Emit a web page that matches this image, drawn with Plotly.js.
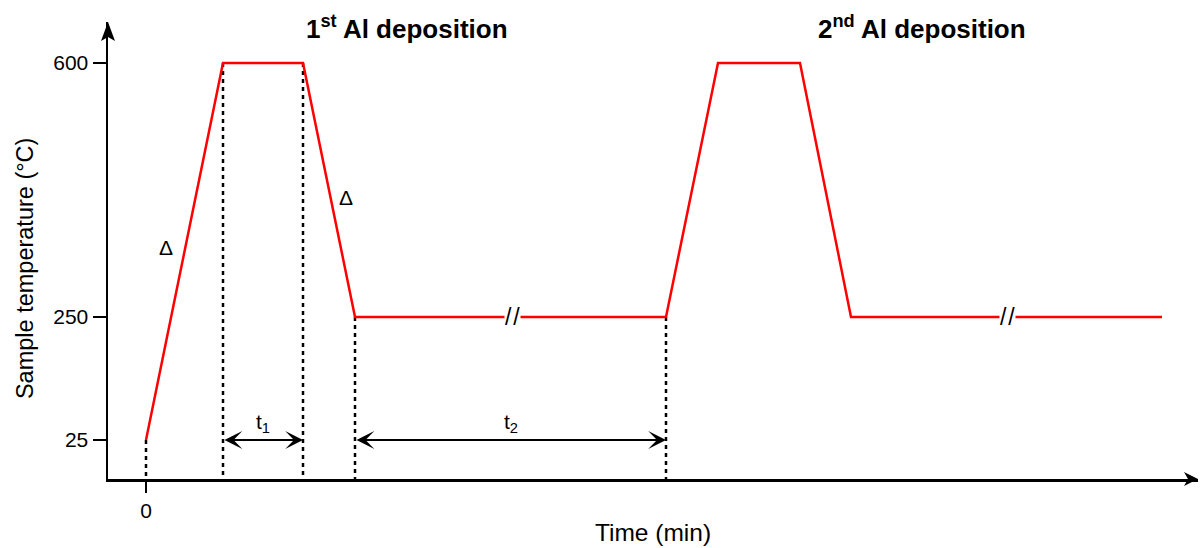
<!DOCTYPE html>
<html><head><meta charset="utf-8">
<script src="https://cdn.plot.ly/plotly-3.0.1.min.js"></script>
<style>html,body{margin:0;padding:0;background:#fff}#chart{width:1200px;height:548px}</style>
</head><body><div id="chart"></div>
<script>
// Temperature profile of two Al deposition cycles (schematic time axis)
const timeMin = [0, 1.54, 3.14, 4.18, 10.4, 11.44, 13.08, 14.1, 20.32];
const tempC   = [25, 600, 600, 250, 250, 600, 600, 250, 250];

// Temperature ticks and the schematic level each one sits at
const tickTemps  = [25, 250, 600];
const tickLabels = ['25', '250', '600'];
const tickLevels = [0, 1, 3.065];

// Dotted guides dropped from profile corners to the time axis
const guideTimes = [0, 1.54, 3.14, 4.18, 10.4];
const guideTemps = [25, 600, 600, 250, 250];

// Holding intervals t1, t2 (drawn at the 25 °C level)
const holdNames = ['t<sub>1</sub>', 't<sub>2</sub>'];
const holdStart = [1.54, 4.18];
const holdEnd   = [3.14, 10.4];
const holdTemp  = 25;

// Ramp markers
const rampTimes = [0.4, 4.0];
const rampTemps = [346, 415];

// Axis breaks on the 250 °C plateaus
const breakTimes = [7.32, 17.22];
const breakTemps = [250, 250];

// Cycle headers
const headers   = ['1<sup>st</sup> Al deposition', '2<sup>nd</sup> Al deposition'];
const headerPos = [0.274, 0.747];

// Piecewise-linear schematic temperature scale
function level(T) {
  for (let i = 0; i < tickTemps.length - 1; i++) {
    const a = tickTemps[i], b = tickTemps[i + 1];
    if (T <= b || i === tickTemps.length - 2) {
      return tickLevels[i] + (T - a) / (b - a) * (tickLevels[i + 1] - tickLevels[i]);
    }
  }
}

const yMin = -0.317, yMax = 3.398;
const FONT = 'Liberation Sans';
const INK = '#000';

const traces = [];

// dotted guides
guideTimes.forEach((t, i) => {
  traces.push({
    x: [t, t], y: [level(guideTemps[i]), yMin], mode: 'lines',
    line: {color: INK, width: 2.5, dash: '4px,4px'},
    hoverinfo: 'skip', showlegend: false, cliponaxis: false
  });
});

// profile
traces.push({
  x: timeMin, y: tempC.map(level), mode: 'lines',
  line: {color: '#ff0000', width: 2.5},
  name: 'Sample temperature', showlegend: false,
  customdata: tempC, hovertemplate: '%{customdata} °C<extra></extra>'
});

const annotations = [];

headers.forEach((h, i) => annotations.push({
  text: '<b>' + h + '</b>', xref: 'paper', yref: 'paper', x: headerPos[i], y: 0.987,
  xanchor: 'center', yanchor: 'middle', showarrow: false,
  font: {family: FONT, size: 26, color: INK}
}));

holdNames.forEach((n, i) => {
  annotations.push({
    x: holdEnd[i], y: level(holdTemp), ax: holdStart[i], ay: level(holdTemp),
    xref: 'x', yref: 'y', axref: 'x', ayref: 'y', text: '',
    showarrow: true, arrowside: 'end+start', arrowhead: 3, startarrowhead: 3,
    arrowsize: 1.35, startarrowsize: 1.35, arrowwidth: 2.2, arrowcolor: INK,
    standoff: 0, startstandoff: 0
  });
  annotations.push({
    text: n, x: (holdStart[i] + holdEnd[i]) / 2, y: level(holdTemp), yshift: 17,
    xref: 'x', yref: 'y', showarrow: false, xanchor: 'center', yanchor: 'middle',
    font: {family: FONT, size: 21, color: INK}
  });
});

rampTimes.forEach((t, i) => annotations.push({
  text: 'Δ', x: t, y: level(rampTemps[i]), xref: 'x', yref: 'y', showarrow: false,
  font: {family: FONT, size: 21, color: INK}
}));

breakTimes.forEach((t, i) => annotations.push({
  text: '/\u200A/', x: t, y: level(breakTemps[i]), xref: 'x', yref: 'y', showarrow: false,
  bgcolor: '#fff', borderpad: 0,
  font: {family: FONT, size: 23, color: INK}
}));

annotations.push({
  text: 'Sample temperature (°C)', textangle: -90, xref: 'paper', yref: 'paper',
  x: -0.0761, y: 0.4595, xanchor: 'center', yanchor: 'middle', showarrow: false,
  font: {family: FONT, size: 23.5, color: INK}
});

// axis arrowheads (pixel-sized paths anchored at the axis ends)
const shapes = [
  {type: 'path', xref: 'paper', yref: 'paper', xsizemode: 'pixel', ysizemode: 'pixel',
   xanchor: 0, yanchor: 1, path: 'M0,0 L-7,-19 L0,-15 L7,-19 Z',
   fillcolor: INK, line: {width: 0}},
  {type: 'path', xref: 'paper', yref: 'paper', xsizemode: 'pixel', ysizemode: 'pixel',
   xanchor: 1, yanchor: 0, path: 'M0,0 L-14,7 L-10,0 L-14,-7 Z',
   fillcolor: INK, line: {width: 0}}
];

const layout = {
  width: 1200, height: 548,
  margin: {l: 108, r: 2, t: 22, b: 69, pad: 0},
  paper_bgcolor: '#fff', plot_bgcolor: '#fff',
  showlegend: false,
  font: {family: FONT, color: INK, size: 20},
  xaxis: {
    range: [-0.76, 21.04], showgrid: false, zeroline: false,
    showline: true, linecolor: INK, linewidth: 2.5,
    tickmode: 'array', tickvals: [0], ticktext: ['0'],
    ticks: 'outside', ticklen: 11, tickwidth: 2.5, tickcolor: INK,
    tickfont: {family: FONT, size: 21, color: INK},
    title: {text: 'Time (min)', font: {family: FONT, size: 24.5, color: INK}, standoff: 3},
    automargin: false, fixedrange: true
  },
  yaxis: {
    range: [yMin, yMax], showgrid: false, zeroline: false,
    showline: true, linecolor: INK, linewidth: 2.5,
    tickmode: 'array', tickvals: tickTemps.map(level), ticktext: tickLabels,
    ticks: 'outside', ticklen: 13, tickwidth: 2.5, tickcolor: INK,
    tickfont: {family: FONT, size: 21, color: INK},
    automargin: false, fixedrange: true
  },
  annotations: annotations,
  shapes: shapes
};

Plotly.newPlot('chart', traces, layout, {displayModeBar: false, staticPlot: true});
</script>
</body></html>
